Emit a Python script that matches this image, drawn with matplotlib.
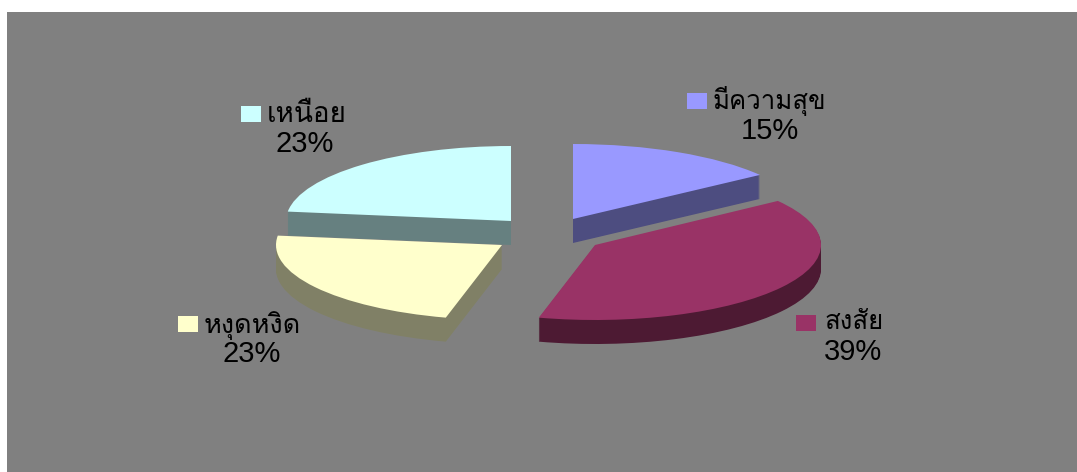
import matplotlib
matplotlib.use('Agg')
import matplotlib.pyplot as plt
from matplotlib.patches import Rectangle, Wedge
from matplotlib.transforms import Affine2D

labels = ['มีความสุข', 'สงสัย', 'หงุดหงิด', 'เหนือย']
values = [15, 39, 23, 23]
pct_labels = ['15%', '39%', '23%', '23%']
top_colors = ['#9999FF', '#993366', '#FFFFCC', '#CCFFFF']
side_colors = ['#4D4D80', '#4D1A33', '#808066', '#668080']

# exploded slice centres and horizontal radii, in pixels
centers = [(573, 219), (595, 245), (502, 245), (511, 221)]
radii = [231, 226, 226, 225]
ry = 75
depth = 24

# key x, key y, label x, label y, percent x, percent y
label_pos = [
    (687, 93, 713, 109, 770, 131),
    (796, 315, 824, 329, 853, 352),
    (178, 316, 204, 333, 252, 354),
    (241, 106, 267, 122, 305, 144),
]
label_sizes = [18.5, 18.5, 19.5, 20]

fig = plt.figure(figsize=(10.77, 4.72), dpi=100)
ax = fig.add_axes([0, 0, 1, 1])
ax.set_xlim(0, 1077)
ax.set_ylim(472, 0)
ax.axis('off')
ax.add_patch(Rectangle((7, 12), 1070, 460, fc='#808080', ec='none', zorder=0))

# angles run clockwise from 12 o'clock
total = sum(values)
starts = [sum(values[:i]) / total * 360 for i in range(len(values))]
ends = [sum(values[:i + 1]) / total * 360 for i in range(len(values))]

z = 1
for i in [3, 0, 2, 1]:
    cx, cy = centers[i]
    t1, t2 = 90 - ends[i], 90 - starts[i]
    # side wall is a stack of dark copies, top face goes last
    for d in range(depth, -1, -1):
        tr = Affine2D().scale(radii[i], -ry).translate(cx, cy + d) + ax.transData
        color = top_colors[i] if d == 0 else side_colors[i]
        ax.add_patch(Wedge((0, 0), 1, t1, t2, fc=color, ec='none', transform=tr, zorder=z))
        z += 1

for i in range(len(labels)):
    kx, ky, lx, ly, px, py = label_pos[i]
    ax.add_patch(Rectangle((kx, ky), 20, 16, fc=top_colors[i], ec='none', zorder=z))
    ax.text(lx, ly, labels[i], family='Loma', fontsize=label_sizes[i], color='black',
            ha='left', va='baseline', zorder=z)
    ax.text(px, py, pct_labels[i], family='Liberation Sans', fontsize=21, color='black',
            ha='center', va='center', zorder=z)

fig.savefig('out.png', dpi=100)
